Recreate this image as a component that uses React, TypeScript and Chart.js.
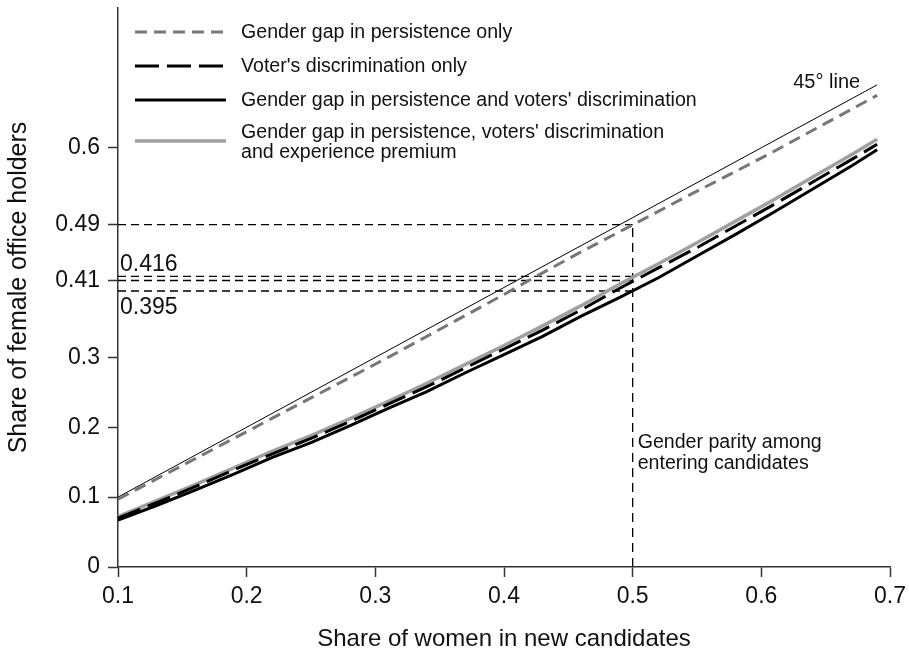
import { useEffect, useRef } from 'react';
import { Chart, registerables } from 'chart.js';

Chart.register(...registerables);

// ---- data ----
const xValues = [0.10, 0.13, 0.16, 0.19, 0.22, 0.25, 0.28, 0.31, 0.34, 0.37, 0.40, 0.43, 0.46, 0.49, 0.52, 0.55, 0.58, 0.61, 0.64, 0.67, 0.69];
const persistenceOnly = [0.097, 0.126, 0.155, 0.184, 0.213, 0.242, 0.271, 0.300, 0.330, 0.360, 0.390, 0.421, 0.451, 0.480, 0.509, 0.538, 0.566, 0.595, 0.625, 0.655, 0.675];
const voterOnly = [0.070, 0.092, 0.115, 0.139, 0.162, 0.184, 0.208, 0.233, 0.258, 0.285, 0.312, 0.339, 0.368, 0.399, 0.428, 0.457, 0.488, 0.519, 0.551, 0.583, 0.605];
const persistenceAndVoter = [0.067, 0.088, 0.110, 0.133, 0.157, 0.178, 0.202, 0.227, 0.251, 0.278, 0.304, 0.330, 0.359, 0.386, 0.414, 0.445, 0.476, 0.508, 0.541, 0.574, 0.597];
const withExperience = [0.072, 0.095, 0.118, 0.142, 0.166, 0.188, 0.212, 0.237, 0.263, 0.290, 0.317, 0.345, 0.374, 0.405, 0.434, 0.464, 0.495, 0.526, 0.558, 0.590, 0.612];
const diagonalX = [0.1, 0.69];
const refLevels = [0.49, 0.416, 0.41, 0.395];
const refStartX = 0.1;
const parityX = 0.5;
const parityTop = 0.49;
const xTickValues = [0.1, 0.2, 0.3, 0.4, 0.5, 0.6, 0.7];
const xTickLabels = ['0.1', '0.2', '0.3', '0.4', '0.5', '0.6', '0.7'];
const yTickValues = [0, 0.1, 0.2, 0.3, 0.41, 0.49, 0.6];
const yTickLabels = ['0', '0.1', '0.2', '0.3', '0.41', '0.49', '0.6'];
const legendLabels = [
  ['Gender gap in persistence only'],
  ["Voter's discrimination only"],
  ["Gender gap in persistence and voters' discrimination"],
  ["Gender gap in persistence, voters' discrimination", 'and experience premium'],
];
const diagonalLabel = '45° line';
const parityLabel = ['Gender parity among', 'entering candidates'];
const parityLabelY = 0.178;
const upperRefLabel = '0.416';
const lowerRefLabel = '0.395';
const xTitle = 'Share of women in new candidates';
const yTitle = 'Share of female office holders';

const FONT = '"Liberation Sans", Arial, Helvetica, sans-serif';
const GRAY_DASH = '#777777';
const GRAY_SOLID = '#a0a0a0';
const AXIS = '#333333';

const seriesStyles = [
  { color: GRAY_DASH, width: 3, dash: [12, 7] },
  { color: '#000000', width: 3, dash: [24, 8] },
  { color: '#000000', width: 3, dash: [] as number[] },
  { color: GRAY_SOLID, width: 3.5, dash: [] as number[] },
];

const pts = (ys: number[]) => xValues.map((x, i) => ({ x, y: ys[i] }));

export default function App() {
  const canvasRef = useRef<HTMLCanvasElement | null>(null);

  useEffect(() => {
    const canvas = canvasRef.current;
    if (!canvas) return;

    const annotations = {
      id: 'annotations',
      afterDraw(chart: any) {
        const ctx = chart.ctx as CanvasRenderingContext2D;
        const xs = chart.scales.x;
        const ys = chart.scales.y;
        ctx.save();
        ctx.fillStyle = '#111111';
        ctx.textBaseline = 'middle';

        // 45° line label
        ctx.font = `20px ${FONT}`;
        ctx.textAlign = 'right';
        ctx.fillText(diagonalLabel, xs.getPixelForValue(diagonalX[1]) - 17, ys.getPixelForValue(diagonalX[1]) - 2);

        // parity label
        ctx.textAlign = 'left';
        ctx.font = `19.6px ${FONT}`;
        const px = xs.getPixelForValue(parityX) + 5;
        const py = ys.getPixelForValue(parityLabelY);
        ctx.fillText(parityLabel[0], px, py);
        ctx.fillText(parityLabel[1], px, py + 21);

        // ref labels
        ctx.font = `23px ${FONT}`;
        const lx = xs.getPixelForValue(refStartX) + 2;
        ctx.fillText(upperRefLabel, lx, ys.getPixelForValue(refLevels[1]) - 12);
        ctx.fillText(lowerRefLabel, lx, ys.getPixelForValue(refLevels[3]) + 17);

        // legend
        const rows = [32, 66, 100, 141];
        const x0 = 135;
        const x1 = 226;
        ctx.font = `19.6px ${FONT}`;
        legendLabels.forEach((lines, i) => {
          const st = seriesStyles[i];
          const y = rows[i];
          ctx.beginPath();
          ctx.strokeStyle = st.color;
          ctx.lineWidth = st.width;
          ctx.setLineDash(st.dash);
          ctx.moveTo(x0, y);
          ctx.lineTo(x1, y);
          ctx.stroke();
          ctx.setLineDash([]);
          ctx.fillStyle = '#111111';
          if (lines.length === 1) {
            ctx.fillText(lines[0], 241, y + 1);
          } else {
            ctx.fillText(lines[0], 241, y - 8);
            ctx.fillText(lines[1], 241, y + 12);
          }
        });
        ctx.restore();
      },
    };

    const refDatasets = refLevels.map((v) => ({
      label: 'ref ' + v,
      data: [{ x: refStartX, y: v }, { x: parityX, y: v }],
      borderColor: '#000000',
      borderWidth: 1.3,
      borderDash: [8, 5],
      pointRadius: 0,
      fill: false,
      order: 10,
    }));

    const chart = new Chart(canvas, {
      type: 'line',
      data: {
        datasets: [
          {
            label: 'both',
            data: pts(persistenceAndVoter),
            borderColor: seriesStyles[2].color,
            borderWidth: seriesStyles[2].width,
            borderDash: seriesStyles[2].dash,
            pointRadius: 0,
            fill: false,
            order: 1,
          },
          {
            label: 'voter',
            data: pts(voterOnly),
            borderColor: seriesStyles[1].color,
            borderWidth: seriesStyles[1].width,
            borderDash: seriesStyles[1].dash,
            pointRadius: 0,
            fill: false,
            order: 2,
          },
          {
            label: 'experience',
            data: pts(withExperience),
            borderColor: seriesStyles[3].color,
            borderWidth: seriesStyles[3].width,
            borderDash: seriesStyles[3].dash,
            pointRadius: 0,
            fill: false,
            order: 3,
          },
          {
            label: 'persistence',
            data: pts(persistenceOnly),
            borderColor: seriesStyles[0].color,
            borderWidth: seriesStyles[0].width,
            borderDash: seriesStyles[0].dash,
            pointRadius: 0,
            fill: false,
            order: 4,
          },
          {
            label: '45',
            data: diagonalX.map((x) => ({ x, y: x })),
            borderColor: '#000000',
            borderWidth: 1,
            pointRadius: 0,
            fill: false,
            order: 5,
          },
          ...refDatasets,
          {
            label: 'parity',
            data: [{ x: parityX, y: 0 }, { x: parityX, y: parityTop }],
            borderColor: '#000000',
            borderWidth: 1.3,
            borderDash: [9, 6],
            pointRadius: 0,
            fill: false,
            order: 10,
          },
        ] as any,
      },
      options: {
        animation: false,
        responsive: false,
        devicePixelRatio: 1,
        layout: { padding: { left: 0, top: 8, right: 19, bottom: 0 } },
        plugins: {
          legend: { display: false },
          tooltip: { enabled: false },
        },
        scales: {
          x: {
            type: 'linear',
            min: 0.1,
            max: 0.7,
            afterBuildTicks: (scale: any) => {
              scale.ticks = xTickValues.map((v) => ({ value: v }));
            },
            afterFit: (scale: any) => {
              scale.height = 91;
              scale.paddingLeft = 0;
              scale.paddingRight = 0;
            },
            ticks: {
              autoSkip: false,
              maxRotation: 0,
              padding: 6,
              color: '#111111',
              font: { family: FONT, size: 23 },
              callback: (_v: any, i: number) => xTickLabels[i],
            },
            grid: {
              drawOnChartArea: false,
              drawTicks: true,
              tickLength: 10,
              tickColor: AXIS,
              tickWidth: 1.5,
            },
            border: { display: true, color: AXIS, width: 1.5 },
            title: {
              display: true,
              text: xTitle,
              color: '#111111',
              font: { family: FONT, size: 24 },
              padding: { top: 0, bottom: 4 },
            },
          },
          y: {
            type: 'linear',
            min: 0,
            max: 0.8,
            afterBuildTicks: (scale: any) => {
              scale.ticks = yTickValues.map((v) => ({ value: v }));
            },
            afterFit: (scale: any) => {
              scale.width = 118;
              scale.paddingTop = 0;
              scale.paddingBottom = 0;
            },
            ticks: {
              autoSkip: false,
              padding: 8,
              color: '#111111',
              font: { family: FONT, size: 23 },
              callback: (_v: any, i: number) => yTickLabels[i],
            },
            grid: {
              drawOnChartArea: false,
              drawTicks: true,
              tickLength: 10,
              tickColor: AXIS,
              tickWidth: 1.5,
            },
            border: { display: true, color: AXIS, width: 1.5 },
            title: {
              display: true,
              text: yTitle,
              color: '#111111',
              font: { family: FONT, size: 25 },
              padding: { top: 4, bottom: 0 },
            },
          },
        },
      } as any,
      plugins: [annotations],
    });

    return () => chart.destroy();
  }, []);

  return (
    <div style={{ position: 'fixed', left: 0, top: 0, width: 909, height: 658, background: '#ffffff' }}>
      <canvas ref={canvasRef} width={909} height={658} style={{ display: 'block', width: 909, height: 658 }} />
    </div>
  );
}
